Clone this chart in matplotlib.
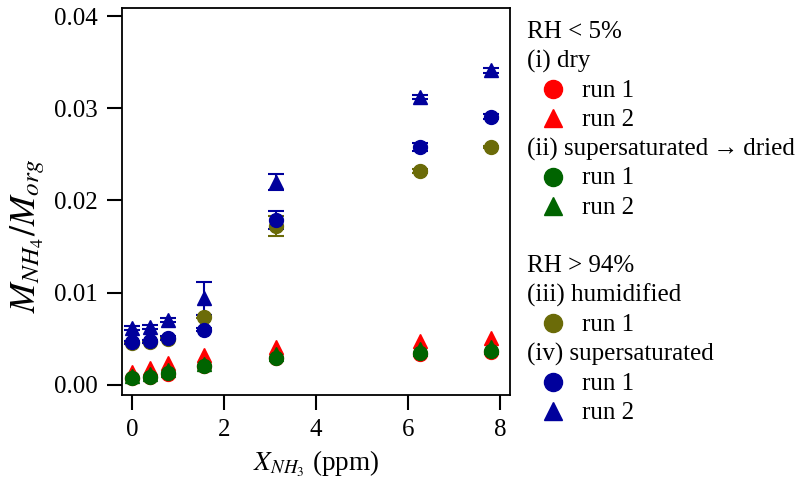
import matplotlib
matplotlib.use("Agg")
import matplotlib.pyplot as plt
from matplotlib.lines import Line2D

plt.rcParams['font.family'] = ['Liberation Serif', 'DejaVu Serif']
plt.rcParams['mathtext.fontset'] = 'stix'

# NH3 mixing ratio (ppm)
x_nh3 = [0.0, 0.39, 0.78, 1.56, 3.125, 6.25, 7.8]

# (i) dry
dry_run1 = [0.0007, 0.0009, 0.0012, 0.0020, 0.0029, 0.0033, 0.0036]
dry_run2 = [0.0014, 0.0018, 0.0024, 0.0032, 0.0041, 0.0047, 0.0051]
# (ii) supersaturated -> dried
ssd_run1 = [0.0007, 0.0009, 0.0013, 0.0020, 0.0029, 0.0034, 0.0037]
ssd_run2 = [0.0010, 0.0012, 0.0016, 0.0023, 0.0033, 0.0039, 0.0041]
# (iii) humidified
hum_run1 = [0.0045, 0.0046, 0.0050, 0.0074, 0.0172, 0.0232, 0.0258]
hum_err1 = [0.0001, 0.0001, 0.0001, 0.0002, 0.0011, 0.0002, 0.0001]
# (iv) supersaturated
ss_run1 = [0.0046, 0.0047, 0.0051, 0.0060, 0.0179, 0.0258, 0.0291]
ss_err1 = [0.0002, 0.0002, 0.0002, 0.0002, 0.0010, 0.0004, 0.0003]
ss_run2 = [0.0062, 0.0063, 0.0070, 0.0094, 0.0220, 0.0312, 0.0341]
ss_err2 = [0.0002, 0.0002, 0.0002, 0.0018, 0.0009, 0.0002, 0.0003]

RED = '#ff0000'
GREEN = '#006400'
OLIVE = '#6b6b08'
BLUE = '#00009c'

fig = plt.figure(figsize=(7.96, 4.87), dpi=100)
ax = fig.add_axes([0.153, 0.189, 0.488, 0.795])

ms = 10
ax.plot(x_nh3, dry_run1, 'o', color=RED, ms=ms, mec=RED)
ax.plot(x_nh3, dry_run2, '^', color=RED, ms=ms, mec=RED)
ax.plot(x_nh3, ssd_run1, 'o', color=GREEN, ms=ms, mec=GREEN)
ax.plot(x_nh3, ssd_run2, '^', color=GREEN, ms=ms, mec=GREEN)
ax.errorbar(x_nh3, hum_run1, yerr=hum_err1, fmt='o', color=OLIVE, ms=ms,
            capsize=6, elinewidth=1.5, capthick=1.5)
ax.errorbar(x_nh3, ss_run1, yerr=ss_err1, fmt='o', color=BLUE, ms=ms,
            capsize=6, elinewidth=1.5, capthick=1.5)
ax.errorbar(x_nh3, ss_run2, yerr=ss_err2, fmt='^', color=BLUE, ms=ms,
            capsize=6, elinewidth=1.5, capthick=1.5)

ax.set_xlim(-0.22, 8.22)
ax.set_ylim(-0.0011, 0.0409)
ax.set_xticks([0, 2, 4, 6, 8])
ax.set_yticks([0.0, 0.01, 0.02, 0.03, 0.04])
ax.set_yticklabels(['0.00', '0.01', '0.02', '0.03', '0.04'])
ax.tick_params(direction='out', length=11, width=1.5, labelsize=18, pad=6)
for s in ax.spines.values():
    s.set_linewidth(1.3)

ax.set_xlabel(r'$X_{NH_3}$ (ppm)', fontsize=19.5, labelpad=6)
ax.set_ylabel(r'$M_{NH_4}/M_{org}$', fontsize=26, labelpad=4)
ax.yaxis.set_label_coords(-0.193, 0.41)

# legend drawn by hand (headers + indented marker rows)
W, H = 796.0, 487.0
rows = [
    ('h', 'RH < 5%', None, None),
    ('h', '(i) dry', None, None),
    ('m', 'run 1', 'o', RED),
    ('m', 'run 2', '^', RED),
    ('h', '(ii) supersaturated\u2009\u2192\u2009dried', None, None),
    ('m', 'run 1', 'o', GREEN),
    ('m', 'run 2', '^', GREEN),
    ('b', '', None, None),
    ('h', 'RH > 94%', None, None),
    ('h', '(iii) humidified', None, None),
    ('m', 'run 1', 'o', OLIVE),
    ('h', '(iv) supersaturated', None, None),
    ('m', 'run 1', 'o', BLUE),
    ('m', 'run 2', '^', BLUE),
]
y0 = 30.0
dy = 29.3
for i, (kind, label, mk, col) in enumerate(rows):
    ypix = y0 + i * dy
    yf = 1 - ypix / H
    ybase = 1 - (ypix + 8) / H
    if kind == 'h':
        fig.text(527 / W, ybase, label, fontsize=18, va='baseline', ha='left')
    elif kind == 'm':
        fig.add_artist(Line2D([553 / W], [yf], marker=mk, color=col,
                              ms=13, mec=col, linestyle='none',
                              transform=fig.transFigure))
        fig.text(582 / W, ybase, label, fontsize=18, va='baseline', ha='left')

fig.savefig('out.png', dpi=100)
